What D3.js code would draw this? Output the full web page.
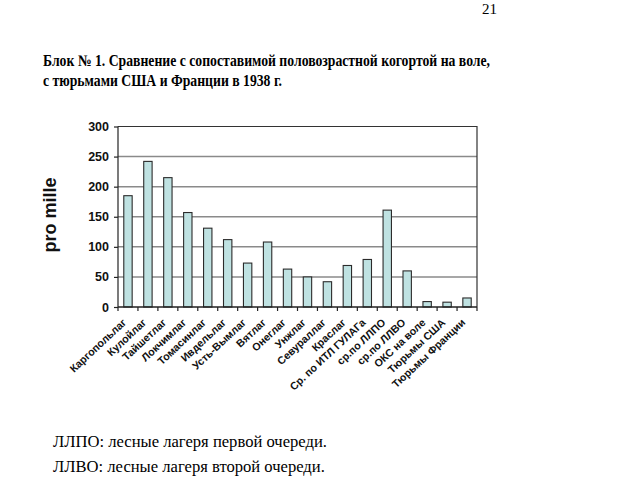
<!DOCTYPE html>
<html>
<head>
<meta charset="utf-8">
<script src="https://cdn.jsdelivr.net/npm/d3@7"></script>
<style>
  body { margin: 0; background: #fff; }
  svg { display: block; }
</style>
</head>
<body>
<div id="chart"></div>
<script>
// Data
const categories = [
  'Каргопольлаг', 'Кулойлаг', 'Тайшетлаг', 'Локчимлаг', 'Томасинлаг', 'Ивдельлаг',
  'Усть-Вымлаг', 'Вятлаг', 'Онеглаг', 'Унжлаг', 'Севураллаг', 'Краслаг',
  'Ср. по ИТЛ ГУЛАГа', 'ср.по ЛЛПО', 'ср.по ЛЛВО', 'ОКС на воле', 'Тюрьмы США', 'Тюрьмы Франции'
];
const values = [185, 242, 215, 157, 131, 112, 73, 108, 63, 50, 42, 69, 79, 161, 60, 9, 8, 15];
const yTicks = [0, 50, 100, 150, 200, 250, 300];

const pageNumber = '21';
const titleLines = [
  'Блок № 1. Сравнение с сопоставимой половозрастной когортой на воле,',
  'с тюрьмами США и Франции в 1938 г.'
];
const notes = [
  'ЛЛПО: лесные лагеря первой очереди.',
  'ЛЛВО: лесные лагеря второй очереди.'
];

const width = 640;
const height = 479;
const margin = { top: 126.5, right: 163, bottom: 172, left: 118 };
const innerW = width - margin.left - margin.right;
const innerH = height - margin.top - margin.bottom;

const svg = d3.select('#chart').append('svg')
  .attr('width', width)
  .attr('height', height);

const serif = '"Liberation Serif", "Times New Roman", serif';
const sans = '"Liberation Sans", Arial, sans-serif';

// Page text
svg.append('text')
  .attr('x', 497).attr('y', 14)
  .attr('text-anchor', 'end')
  .attr('font-family', serif).attr('font-size', '15px')
  .text(pageNumber);

// the scan's title face is narrower than Times, so squeeze it to the measured widths
const titleWidths = [447, 239];
svg.selectAll('.title')
  .data(titleLines)
  .join('text')
  .attr('class', 'title')
  .attr('x', 43)
  .attr('y', (d, i) => 66 + i * 20)
  .attr('font-family', serif)
  .attr('font-size', '16px')
  .attr('font-weight', 'bold')
  .attr('textLength', (d, i) => titleWidths[i])
  .attr('lengthAdjust', 'spacingAndGlyphs')
  .text(d => d);

svg.selectAll('.note')
  .data(notes)
  .join('text')
  .attr('class', 'note')
  .attr('x', 53)
  .attr('y', (d, i) => 447 + i * 25)
  .attr('font-family', serif)
  .attr('font-size', '16.6px')
  .text(d => d);

const g = svg.append('g')
  .attr('transform', `translate(${margin.left},${margin.top})`);

const x = d3.scaleBand()
  .domain(categories)
  .range([0, innerW])
  .paddingInner(0.58)
  .paddingOuter(0.29);

const y = d3.scaleLinear()
  .domain([0, 300])
  .range([innerH, 0]);

// Grid lines
g.append('g')
  .selectAll('line')
  .data(yTicks.filter(t => t > 0 && t < 300))
  .join('line')
  .attr('x1', 0).attr('x2', innerW)
  .attr('y1', d => y(d)).attr('y2', d => y(d))
  .attr('stroke', '#8a8a8a')
  .attr('stroke-width', 1.5);

// Frame top and right
g.append('path')
  .attr('d', `M0,${y(300)}H${innerW}V${innerH}`)
  .attr('fill', 'none')
  .attr('stroke', '#333')
  .attr('stroke-width', 1.2);

// Bars
g.selectAll('.bar')
  .data(values)
  .join('rect')
  .attr('class', 'bar')
  .attr('x', (d, i) => x(categories[i]))
  .attr('y', d => y(d))
  .attr('width', x.bandwidth())
  .attr('height', d => innerH - y(d))
  .attr('fill', '#bfe2e2')
  .attr('stroke', '#2b2b2b')
  .attr('stroke-width', 1.1);

// Y axis
const yAxis = g.append('g')
  .call(d3.axisLeft(y).tickValues(yTicks).tickSize(4).tickPadding(5));
yAxis.selectAll('text')
  .attr('font-family', sans).attr('font-size', '12.5px').attr('font-weight', 'bold').attr('fill', '#111');
yAxis.selectAll('line,path').attr('stroke', '#222').attr('stroke-width', 1.2);
yAxis.select('.domain').attr('d', `M0,${innerH}V0`);

// X axis: ticks at category boundaries
const boundaries = d3.range(categories.length + 1).map(i => i * innerW / categories.length);
const xAxis = g.append('g').attr('transform', `translate(0,${innerH})`);
xAxis.append('line')
  .attr('x1', 0).attr('x2', innerW)
  .attr('stroke', '#222').attr('stroke-width', 1.3);
xAxis.selectAll('.tick')
  .data(boundaries)
  .join('line')
  .attr('class', 'tick')
  .attr('x1', d => d).attr('x2', d => d)
  .attr('y1', 0).attr('y2', 4)
  .attr('stroke', '#222').attr('stroke-width', 1.2);

xAxis.selectAll('.xlabel')
  .data(categories)
  .join('text')
  .attr('class', 'xlabel')
  .attr('transform', d => `translate(${x(d) + x.bandwidth() / 2 - 6},${11}) rotate(-43)`)
  .attr('text-anchor', 'end')
  .attr('dy', '0.7em')
  .attr('font-family', sans)
  .attr('font-size', '10.6px')
  .attr('font-weight', 'bold')
  .attr('fill', '#111')
  .text(d => d);

// Y axis title
svg.append('text')
  .attr('transform', `translate(56,215) rotate(-90)`)
  .attr('text-anchor', 'middle')
  .attr('font-family', sans)
  .attr('font-size', '18px')
  .attr('font-weight', 'bold')
  .attr('fill', '#111')
  .text('pro mille');
</script>
</body>
</html>
